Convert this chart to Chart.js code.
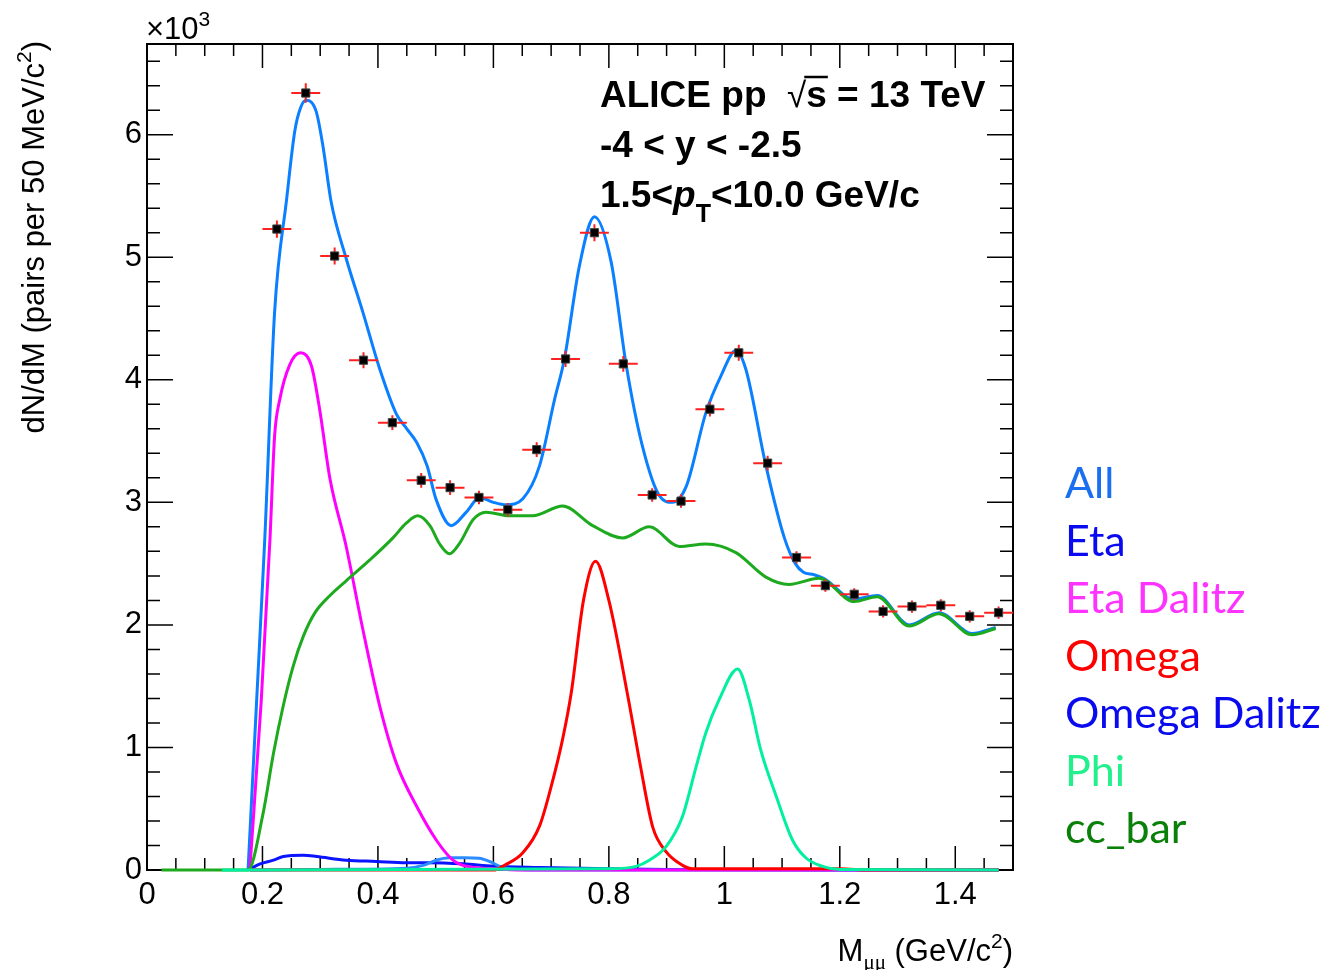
<!DOCTYPE html>
<html>
<head>
<meta charset="utf-8">
<title>ALICE pp 13 TeV dimuon mass</title>
<script src="https://cdn.jsdelivr.net/npm/chart.js@4.4.0/dist/chart.umd.min.js"></script>
<style>
  html, body { margin: 0; padding: 0; background: #fff; }
  #massChart { display: block; }
</style>
</head>
<body>
<canvas id="massChart" width="1327" height="970"></canvas>
<script>
// measured spectrum (x10^3 pairs per 50 MeV/c^2)
const binCenters = [0.225, 0.275, 0.325, 0.375, 0.425, 0.475, 0.525, 0.575, 0.625, 0.675,
  0.725, 0.775, 0.825, 0.875, 0.925, 0.975, 1.025, 1.075, 1.125, 1.175,
  1.225, 1.275, 1.325, 1.375, 1.425, 1.475];
const counts = [5.23, 6.34, 5.01, 4.16, 3.65, 3.18, 3.12, 3.04, 2.94, 3.43,
  4.17, 5.20, 4.13, 3.06, 3.01, 3.76, 4.22, 3.32, 2.55, 2.32,
  2.25, 2.11, 2.15, 2.16, 2.07, 2.10];
const countErrors = [0.07, 0.08, 0.07, 0.065, 0.06, 0.06, 0.06, 0.055, 0.055, 0.06,
  0.065, 0.07, 0.065, 0.055, 0.055, 0.06, 0.065, 0.06, 0.05, 0.05,
  0.05, 0.05, 0.05, 0.05, 0.05, 0.05];
const binHalfWidth = 0.025;

// fit components, [mass, value]
const allCurve = [[0.175, 0], [0.19, 1.39], [0.204, 2.7], [0.221, 4.55], [0.242, 5.48], [0.256, 6.03],
  [0.266, 6.22], [0.276, 6.28], [0.293, 6.19], [0.305, 5.9], [0.319, 5.45], [0.345, 4.99],
  [0.374, 4.55], [0.403, 4.09], [0.432, 3.72], [0.45, 3.6], [0.467, 3.49], [0.485, 3.3],
  [0.501, 3.02], [0.527, 2.81], [0.553, 2.92], [0.576, 3.04], [0.6, 3.0], [0.622, 2.98],
  [0.651, 3.03], [0.68, 3.3], [0.706, 3.84], [0.723, 4.17], [0.749, 4.93], [0.775, 5.33],
  [0.804, 4.96], [0.83, 4.12], [0.858, 3.46], [0.888, 3.05], [0.91, 3.0], [0.934, 3.13],
  [0.968, 3.73], [0.994, 4.03], [1.02, 4.24], [1.037, 4.09], [1.072, 3.3], [1.104, 2.71],
  [1.123, 2.5], [1.137, 2.43], [1.155, 2.41], [1.172, 2.38], [1.225, 2.21], [1.265, 2.24],
  [1.32, 2.0], [1.372, 2.1], [1.429, 1.93], [1.47, 1.98]];
const etaCurve = [[0.175, 0], [0.196, 0.05], [0.219, 0.08], [0.236, 0.11], [0.271, 0.12], [0.294, 0.11],
  [0.345, 0.08], [0.397, 0.07], [0.449, 0.06], [0.489, 0.06], [0.547, 0.05], [0.6, 0.03],
  [0.68, 0.02], [0.8, 0.01], [0.9, 0.005], [1.2, 0], [1.475, 0]];
const etaDalitzCurve = [[0.178, 0], [0.198, 1.39], [0.213, 2.7], [0.221, 3.54], [0.23, 3.84], [0.247, 4.12],
  [0.266, 4.22], [0.285, 4.11], [0.299, 3.76], [0.317, 3.19], [0.345, 2.64], [0.374, 1.96],
  [0.403, 1.34], [0.432, 0.87], [0.467, 0.52], [0.501, 0.245], [0.53, 0.08], [0.553, 0.03],
  [0.6, 0.01], [0.65, 0], [1.475, 0]];
const omegaCurve = [[0.178, 0], [0.6, 0], [0.62, 0.04], [0.651, 0.14], [0.68, 0.36], [0.7, 0.68],
  [0.72, 1.07], [0.735, 1.45], [0.756, 2.2], [0.777, 2.52], [0.8, 2.2], [0.834, 1.39],
  [0.855, 0.84], [0.876, 0.35], [0.899, 0.15], [0.927, 0.04], [0.945, 0.01], [1.2, 0.01],
  [1.25, 0], [1.475, 0]];
const omegaDalitzCurve = [[0.178, 0], [0.3, 0.005], [0.45, 0.015], [0.48, 0.04], [0.501, 0.08],
  [0.524, 0.1], [0.55, 0.1], [0.575, 0.095], [0.593, 0.07], [0.616, 0.02], [0.64, 0.005],
  [0.7, 0], [1.475, 0]];
const phiCurve = [[0.13, 0], [0.8, 0.01], [0.847, 0.03], [0.87, 0.08], [0.899, 0.19], [0.927, 0.43],
  [0.951, 0.84], [0.968, 1.12], [0.991, 1.39], [1.023, 1.64], [1.043, 1.39], [1.063, 0.98],
  [1.09, 0.6], [1.118, 0.245], [1.141, 0.1], [1.17, 0.03], [1.2, 0.005], [1.475, 0]];
const ccbarCurve = [[0.025, 0], [0.175, 0], [0.201, 0.46], [0.219, 0.95], [0.236, 1.34], [0.253, 1.66],
  [0.271, 1.91], [0.291, 2.1], [0.317, 2.24], [0.345, 2.36], [0.386, 2.53], [0.426, 2.71],
  [0.449, 2.83], [0.469, 2.89], [0.49, 2.81], [0.507, 2.66], [0.524, 2.58], [0.542, 2.67],
  [0.565, 2.86], [0.587, 2.92], [0.628, 2.89], [0.668, 2.89], [0.72, 2.97], [0.772, 2.81],
  [0.824, 2.71], [0.87, 2.8], [0.922, 2.64], [0.968, 2.66], [1.02, 2.59], [1.072, 2.39],
  [1.112, 2.33], [1.164, 2.38], [1.225, 2.19], [1.265, 2.23], [1.32, 1.99], [1.372, 2.09],
  [1.429, 1.92], [1.47, 1.97]];

const legendLabels = ["All", "Eta", "Eta Dalitz", "Omega", "Omega Dalitz", "Phi", "cc_bar"];
const legendColors = ["#1a6ef0", "#0a0af0", "#ff33ff", "#ff0000", "#0a0aee", "#22f08c", "#0a800a"];

const xMin = 0, xMax = 1.5, yMin = 0, yMax = 6.74;

const ROOT_FONT = "'Liberation Sans', Arial, Helvetica, sans-serif";
const LABEL = "31px " + ROOT_FONT;
const SMALL = "21px " + ROOT_FONT;

function curve(label, pts, color) {
  return {
    type: "line",
    label: label,
    data: pts.map(p => ({ x: p[0], y: p[1] })),
    borderColor: color,
    borderWidth: 3,
    pointRadius: 0,
    fill: false,
    clip: 3,
    cubicInterpolationMode: "monotone"
  };
}

// draw a run of text pieces with different fonts / offsets
function drawPieces(ctx, pieces, x, y, align) {
  let total = 0;
  pieces.forEach(p => { ctx.font = p.font; total += ctx.measureText(p.t).width; });
  let cx = align === "right" ? x - total : x;
  ctx.textAlign = "left";
  ctx.textBaseline = "alphabetic";
  pieces.forEach(p => {
    ctx.font = p.font;
    ctx.fillText(p.t, cx, y + (p.dy || 0));
    const w = ctx.measureText(p.t).width;
    if (p.over) {
      ctx.save();
      ctx.lineWidth = 2.5;
      ctx.beginPath();
      ctx.moveTo(cx - 2, y + p.over);
      ctx.lineTo(cx + w + 1, y + p.over);
      ctx.stroke();
      ctx.restore();
    }
    cx += w;
  });
}

const framePlugin = {
  id: "rootFrame",
  beforeDatasetsDraw(chart) {
    const { ctx, chartArea: a } = chart;
    const xs = chart.scales.x, ys = chart.scales.y;
    ctx.save();
    ctx.strokeStyle = "#000";
    ctx.lineWidth = 2;
    ctx.strokeRect(a.left, a.top, a.right - a.left, a.bottom - a.top);
    ctx.lineWidth = 1.5;
    ctx.beginPath();
    // x ticks, 0.05 minor, 0.2 major
    for (let i = 0; i * 0.05 <= xMax + 1e-9; i++) {
      const px = xs.getPixelForValue(i * 0.05);
      const len = i % 4 === 0 ? 24 : 12;
      ctx.moveTo(px, a.bottom); ctx.lineTo(px, a.bottom - len);
      ctx.moveTo(px, a.top); ctx.lineTo(px, a.top + len);
    }
    // y ticks, 0.2 minor, 1 major
    for (let i = 0; i * 0.2 <= yMax + 1e-9; i++) {
      const py = ys.getPixelForValue(i * 0.2);
      const len = i % 5 === 0 ? 26 : 13;
      ctx.moveTo(a.left, py); ctx.lineTo(a.left + len, py);
      ctx.moveTo(a.right, py); ctx.lineTo(a.right - len, py);
    }
    ctx.stroke();
    ctx.restore();
  },
  beforeDatasetDraw(chart, args) {
    if (args.index !== 0) return;
    const { ctx } = chart;
    const xs = chart.scales.x, ys = chart.scales.y;
    ctx.save();
    ctx.strokeStyle = "#ff2020";
    ctx.lineWidth = 2;
    ctx.beginPath();
    binCenters.forEach((m, i) => {
      const px = xs.getPixelForValue(m);
      const py = ys.getPixelForValue(counts[i]);
      ctx.moveTo(xs.getPixelForValue(m - binHalfWidth), py);
      ctx.lineTo(xs.getPixelForValue(m + binHalfWidth), py);
      ctx.moveTo(px, ys.getPixelForValue(counts[i] + countErrors[i]));
      ctx.lineTo(px, ys.getPixelForValue(counts[i] - countErrors[i]));
    });
    ctx.stroke();
    ctx.restore();
  },
  afterDraw(chart) {
    const { ctx, chartArea: a } = chart;
    ctx.save();
    ctx.fillStyle = "#000";
    ctx.strokeStyle = "#000";

    // exponent above y axis
    drawPieces(ctx, [
      { t: "\u00d710", font: LABEL },
      { t: "3", font: SMALL, dy: -13 }
    ], a.left - 1, 39, "left");

    // y axis title, rotated, aligned to the top
    ctx.save();
    ctx.translate(44, 41);
    ctx.rotate(-Math.PI / 2);
    drawPieces(ctx, [
      { t: "dN/dM (pairs per 50 MeV/c", font: LABEL },
      { t: "2", font: SMALL, dy: -13 },
      { t: ")", font: LABEL }
    ], 0, 0, "right");
    ctx.restore();

    // x axis title
    drawPieces(ctx, [
      { t: "M", font: LABEL },
      { t: "\u03bc\u03bc", font: "21px 'Liberation Serif', serif", dy: 8 },
      { t: " (GeV/c", font: LABEL },
      { t: "2", font: SMALL, dy: -13 },
      { t: ")", font: LABEL }
    ], a.right, 961, "right");

    // experiment labels
    const b = "bold 37px " + ROOT_FONT;
    drawPieces(ctx, [
      { t: "ALICE pp  ", font: b },
      { t: "\u221a", font: "35px " + ROOT_FONT },
      { t: "s", font: b, over: -30 },
      { t: " = 13 TeV", font: b }
    ], 600, 107, "left");
    drawPieces(ctx, [{ t: "-4 < y < -2.5", font: b }], 600, 157, "left");
    drawPieces(ctx, [
      { t: "1.5<", font: b },
      { t: "p", font: "italic " + b },
      { t: "T", font: "bold 25px " + ROOT_FONT, dy: 15 },
      { t: "<10.0 GeV/c", font: b }
    ], 600, 207, "left");

    // legend to the right of the frame
    ctx.font = "43px Lato, 'Open Sans', sans-serif";
    ctx.textAlign = "left";
    ctx.textBaseline = "alphabetic";
    legendLabels.forEach((lab, i) => {
      ctx.fillStyle = legendColors[i];
      ctx.fillText(lab, 1065, 498 + i * 57.5);
    });
    ctx.restore();
  }
};

const fmtTick = v => String(Number(v.toFixed(1)));

new Chart(document.getElementById("massChart"), {
  data: {
    datasets: [
      {
        type: "scatter",
        label: "Data",
        data: binCenters.map((m, i) => ({ x: m, y: counts[i] })),
        pointStyle: "rect",
        pointRadius: 5.8,
        backgroundColor: "#000",
        borderColor: "#444",
        borderWidth: 1
      },
      curve("Phi", phiCurve, "#00f0a0"),
      curve("cc_bar", ccbarCurve, "#1eaa1e"),
      curve("Omega", omegaCurve, "#ff0000"),
      curve("Eta Dalitz", etaDalitzCurve, "#ff00ff"),
      curve("Omega Dalitz", omegaDalitzCurve, "#2a8cff"),
      curve("Eta", etaCurve, "#0a14ff"),
      curve("All", allCurve, "#0a7fff")
    ]
  },
  options: {
    responsive: false,
    animation: false,
    devicePixelRatio: 1,
    layout: { padding: { left: 0, right: 314, top: 44, bottom: 0 } },
    plugins: { legend: { display: false }, tooltip: { enabled: false } },
    scales: {
      x: {
        type: "linear",
        min: xMin,
        max: xMax,
        grid: { display: false, drawTicks: false },
        border: { display: false },
        ticks: {
          stepSize: 0.2,
          includeBounds: false,
          autoSkip: false,
          maxRotation: 0,
          padding: 7,
          color: "#000",
          font: { family: ROOT_FONT, size: 31 },
          callback: fmtTick
        },
        afterFit(scale) { scale.height = 100; }
      },
      y: {
        type: "linear",
        min: yMin,
        max: yMax,
        grid: { display: false, drawTicks: false },
        border: { display: false },
        ticks: {
          stepSize: 1,
          includeBounds: false,
          autoSkip: false,
          padding: 5,
          color: "#000",
          font: { family: ROOT_FONT, size: 31 },
          callback: fmtTick
        },
        afterFit(scale) { scale.width = 147; }
      }
    }
  },
  plugins: [framePlugin]
});
</script>
</body>
</html>
